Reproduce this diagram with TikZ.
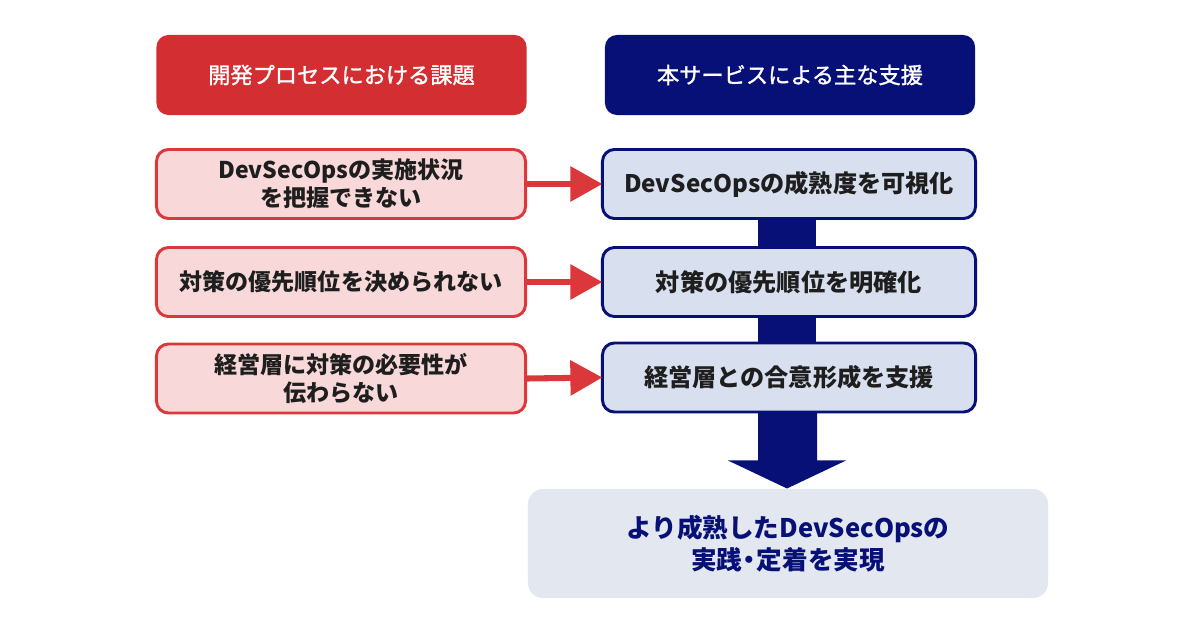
\documentclass[tikz,border=0pt]{standalone}
\usepackage{fontspec}
\setmainfont{Noto Sans CJK JP}
\newfontfamily\hdfont{Noto Sans CJK JP}[FakeBold=1.3]
\usetikzlibrary{arrows.meta,calc,backgrounds}
\definecolor{redhead}{RGB}{211,47,51}
\definecolor{redline}{RGB}{218,56,58}
\definecolor{pinkfill}{RGB}{248,216,216}
\definecolor{navy}{RGB}{6,16,118}
\definecolor{bluefill}{RGB}{216,224,240}
\definecolor{goalfill}{RGB}{227,231,239}
\definecolor{txt}{RGB}{30,30,30}
\tikzset{
  headbox/.style={rounded corners=0.3cm, minimum width=9.25cm, minimum height=2cm, text=white, font=\hdfont\fontsize{15.8}{19}\selectfont, align=center, inner sep=0pt},
  probbox/.style={draw=redline, fill=pinkfill, line width=2.1pt, rounded corners=0.3cm, minimum width=9.225cm, minimum height=1.725cm, text=txt, font=\fontsize{16.4}{20}\selectfont\bfseries, align=center, inner sep=0pt},
  supbox/.style={draw=navy, fill=bluefill, line width=2.1pt, rounded corners=0.3cm, minimum width=9.325cm, minimum height=1.725cm, text=txt, font=\fontsize{17.2}{20}\selectfont\bfseries, align=center, inner sep=0pt},
  goalbox/.style={fill=goalfill, rounded corners=0.38cm, minimum width=13cm, minimum height=2.725cm, text=navy, font=\fontsize{18.2}{22.8}\selectfont\bfseries, align=center, inner sep=0pt},
  redarrow/.style={draw=redline, line width=4.3pt, -{Triangle[length=0.8cm, width=0.85cm]}, shorten >=-1pt},
}
\begin{document}
\begin{tikzpicture}[x=0.025cm, y=-0.025cm]
\useasboundingbox (0,0) rectangle (1200,630);
\node[headbox, fill=redhead] (h1) at (341.5,75) {開発プロセスにおける課題};
\node[headbox, fill=navy] (h2) at (790,75) {本サービスによる主な支援};
\node[probbox] (l1) at (341,184) {DevSecOpsの実施状況\\を把握できない};
\node[probbox] (l2) at (341,282) {対策の優先順位を決められない};
\node[probbox] (l3) at (341,378.5) {経営層に対策の必要性が\\伝わらない};
\node[supbox] (r1) at (789,184) {DevSecOpsの成熟度を可視化};
\node[supbox] (r2) at (789,282) {対策の優先順位を明確化};
\node[supbox] (r3) at (789,377.5) {経営層との合意形成を支援};
\node[goalbox] (g) at (788,543.5) {より成熟したDevSecOpsの\\実践\kern-0.22em・\kern-0.22em定着を実現};
\begin{scope}[on background layer]
  \fill[navy] ($(r1.south)+(-31,-2)$) rectangle ($(r2.north)+(27,2)$);
  \fill[navy] ($(r2.south)+(-31,-2)$) rectangle ($(r3.north)+(27,2)$);
\end{scope}
\coordinate (tip) at ($(r3.south)+(-2,75)$);
\fill[navy] ($(r3.south)+(-31,-1)$) -- ($(r3.south)+(28,-1)$) -- ($(r3.south)+(28,47)$) -- ($(r3.south)+(57,47)$) -- (tip) -- ($(r3.south)+(-61,47)$) -- ($(r3.south)+(-31,47)$) -- cycle;
\draw[redarrow] (l1.east) -- (r1.west);
\draw[redarrow] (l2.east) -- (r2.west);
\draw[redarrow] (l3.east) -- (r3.west);
\end{tikzpicture}
\end{document}
